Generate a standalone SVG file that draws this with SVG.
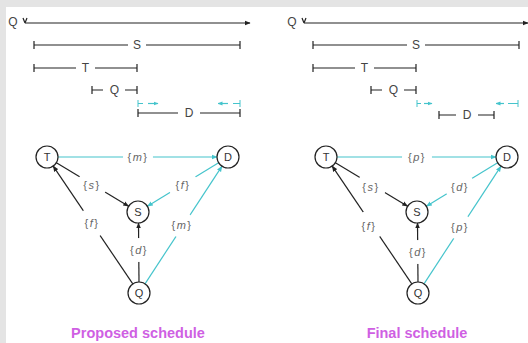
<svg xmlns="http://www.w3.org/2000/svg" width="528" height="343" viewBox="0 0 528 343">
<defs>
<marker id="ab" viewBox="0 0 10 10" refX="9" refY="5" markerWidth="6" markerHeight="6" orient="auto" markerUnits="userSpaceOnUse"><path d="M0,1 L10,5 L0,9 z" fill="#222"/></marker>
<marker id="ac" viewBox="0 0 10 10" refX="9" refY="5" markerWidth="6" markerHeight="6" orient="auto" markerUnits="userSpaceOnUse"><path d="M0,1 L10,5 L0,9 z" fill="#45c4cc"/></marker>
<marker id="acs" viewBox="0 0 10 10" refX="9" refY="5" markerWidth="5" markerHeight="5" orient="auto" markerUnits="userSpaceOnUse"><path d="M0,1 L10,5 L0,9 z" fill="#45c4cc"/></marker>
</defs>
<style>
.bl{stroke:#222;stroke-width:1.2;fill:none}
.cy{stroke:#45c4cc;stroke-width:1.2;fill:none}
.tk{stroke:#222;stroke-width:1.2}
.tkc{stroke:#45c4cc;stroke-width:1}
.tl{font-family:"Liberation Sans",Arial,sans-serif;font-size:12px;fill:#444;text-anchor:middle;dominant-baseline:central}
.nd circle{fill:#fff;stroke:#222;stroke-width:1.2}
.nd text{font-family:"Liberation Sans",Arial,sans-serif;font-size:11px;fill:#333;text-anchor:middle;dominant-baseline:central}
.lb{font-family:"Liberation Sans",Arial,sans-serif;font-size:11px;fill:#666;text-anchor:middle;dominant-baseline:central;letter-spacing:1.5px}
.lb tspan{font-style:italic}
.lbg{fill:#fff}
.title{font-family:"Liberation Sans",Arial,sans-serif;font-size:14.5px;font-weight:bold;fill:#cf5fe3;text-anchor:middle}
</style>
<rect width="528" height="343" fill="#fff"/>
<rect x="0" y="0" width="528" height="7" fill="#e4e4e4"/>
<rect x="0" y="0" width="6" height="343" fill="#e4e4e4"/>

<!-- Left timeline -->
<g id="timeline-left">
<text class="tl" x="13" y="22">Q</text>
<path class="bl" d="M23,18 L25,23 M27,18 L25,23" stroke-width="1"/>
<line class="bl" x1="25" y1="23" x2="250" y2="23" marker-end="url(#ab)"/>
<line class="bl" x1="34" y1="45" x2="240" y2="45"/>
<line class="tk" x1="34" y1="41" x2="34" y2="49"/><line class="tk" x1="240" y1="41" x2="240" y2="49"/>
<rect class="lbg" x="128" y="38" width="18" height="14"/><text class="tl" x="137" y="45">S</text>
<line class="bl" x1="34" y1="68" x2="137" y2="68"/>
<line class="tk" x1="34" y1="64" x2="34" y2="72"/><line class="tk" x1="137" y1="64" x2="137" y2="72"/>
<rect class="lbg" x="76" y="61" width="19" height="14"/><text class="tl" x="85.5" y="68">T</text>
<line class="bl" x1="92" y1="90" x2="137" y2="90"/>
<line class="tk" x1="92" y1="86" x2="92" y2="94"/><line class="tk" x1="137" y1="86" x2="137" y2="94"/>
<rect class="lbg" x="103" y="83" width="22" height="14"/><text class="tl" x="114.5" y="90">Q</text>
<line class="tkc" x1="138" y1="100" x2="138" y2="107"/><line class="tkc" x1="138" y1="103.5" x2="143" y2="103.5"/>
<line class="cy" x1="148" y1="103.5" x2="158" y2="103.5" stroke-width="1" marker-end="url(#acs)"/>
<line class="tkc" x1="240" y1="100" x2="240" y2="107"/><line class="tkc" x1="240" y1="103.5" x2="233" y2="103.5"/>
<line class="cy" x1="228" y1="103.5" x2="218" y2="103.5" stroke-width="1" marker-end="url(#acs)"/>
<line class="bl" x1="138" y1="113" x2="240" y2="113"/>
<line class="tk" x1="138" y1="109" x2="138" y2="117"/><line class="tk" x1="240" y1="109" x2="240" y2="117"/>
<rect class="lbg" x="178" y="106" width="22" height="14"/><text class="tl" x="189" y="113">D</text>
</g>

<!-- Right timeline -->
<g id="timeline-right">
<text class="tl" x="292" y="22">Q</text>
<path class="bl" d="M302,18 L304,23 M306,18 L304,23" stroke-width="1"/>
<line class="bl" x1="304" y1="23" x2="528" y2="23" marker-end="url(#ab)"/>
<line class="bl" x1="313" y1="45" x2="519" y2="45"/>
<line class="tk" x1="313" y1="41" x2="313" y2="49"/><line class="tk" x1="519" y1="41" x2="519" y2="49"/>
<rect class="lbg" x="407" y="38" width="18" height="14"/><text class="tl" x="416" y="45">S</text>
<line class="bl" x1="313" y1="68" x2="416" y2="68"/>
<line class="tk" x1="313" y1="64" x2="313" y2="72"/><line class="tk" x1="416" y1="64" x2="416" y2="72"/>
<rect class="lbg" x="355" y="61" width="19" height="14"/><text class="tl" x="364.5" y="68">T</text>
<line class="bl" x1="371" y1="90" x2="416" y2="90"/>
<line class="tk" x1="371" y1="86" x2="371" y2="94"/><line class="tk" x1="416" y1="86" x2="416" y2="94"/>
<rect class="lbg" x="382" y="83" width="22" height="14"/><text class="tl" x="393.5" y="90">Q</text>
<line class="tkc" x1="417" y1="100" x2="417" y2="107"/><line class="tkc" x1="417" y1="103.5" x2="421" y2="103.5"/>
<line class="cy" x1="424" y1="103.5" x2="432" y2="103.5" stroke-width="1" marker-end="url(#acs)"/>
<line class="tkc" x1="518" y1="100" x2="518" y2="107"/><line class="tkc" x1="518" y1="103.5" x2="508" y2="103.5"/>
<line class="cy" x1="504" y1="103.5" x2="496" y2="103.5" stroke-width="1" marker-end="url(#acs)"/>
<line class="bl" x1="439" y1="115" x2="494" y2="115"/>
<line class="tk" x1="439" y1="111" x2="439" y2="119"/><line class="tk" x1="494" y1="111" x2="494" y2="119"/>
<rect class="lbg" x="456" y="108" width="22" height="14"/><text class="tl" x="467" y="115">D</text>
</g>

<!-- Connectors -->
<g id="connectors">
<line class="cy" x1="58" y1="157" x2="217" y2="157" marker-end="url(#ac)"/>
<line class="bl" x1="56.4" y1="162.7" x2="128.6" y2="206.3" marker-end="url(#ab)"/>
<line class="cy" x1="218.6" y1="162.7" x2="147.4" y2="206.3" marker-end="url(#ac)"/>
<line class="bl" x1="132.8" y1="283.9" x2="53.2" y2="166.1" marker-end="url(#ab)"/>
<line class="bl" x1="139" y1="282" x2="138.5" y2="223" marker-end="url(#ab)"/>
<line class="cy" x1="145" y1="283.8" x2="222" y2="166.2" marker-end="url(#ac)"/>
<line class="cy" x1="337" y1="157" x2="496" y2="157" marker-end="url(#ac)"/>
<line class="bl" x1="335.4" y1="162.7" x2="407.6" y2="206.3" marker-end="url(#ab)"/>
<line class="cy" x1="497.6" y1="162.7" x2="426.4" y2="206.3" marker-end="url(#ac)"/>
<line class="bl" x1="411.8" y1="283.9" x2="332.2" y2="166.1" marker-end="url(#ab)"/>
<line class="bl" x1="418" y1="282" x2="417.5" y2="223" marker-end="url(#ab)"/>
<line class="cy" x1="424" y1="283.8" x2="501" y2="166.2" marker-end="url(#ac)"/>
</g>

<!-- Edge labels -->
<g id="edge-labels">
<circle class="lbg" cx="138" cy="157" r="15"/><text class="lb" x="138" y="157">{<tspan>m</tspan>}</text>
<circle class="lbg" cx="92" cy="185" r="15"/><text class="lb" x="92" y="185">{<tspan>s</tspan>}</text>
<circle class="lbg" cx="183" cy="185" r="15"/><text class="lb" x="183" y="185">{<tspan>f</tspan>}</text>
<circle class="lbg" cx="92" cy="223" r="15"/><text class="lb" x="92" y="223">{<tspan>f</tspan>}</text>
<circle class="lbg" cx="139" cy="250" r="12"/><text class="lb" x="139" y="250">{<tspan>d</tspan>}</text>
<circle class="lbg" cx="182" cy="225" r="13"/><text class="lb" x="182" y="225">{<tspan>m</tspan>}</text>

<circle class="lbg" cx="417" cy="157" r="15"/><text class="lb" x="417" y="157">{<tspan>p</tspan>}</text>
<circle class="lbg" cx="371" cy="187" r="15"/><text class="lb" x="371" y="187">{<tspan>s</tspan>}</text>
<circle class="lbg" cx="460" cy="187" r="15"/><text class="lb" x="460" y="187">{<tspan>d</tspan>}</text>
<circle class="lbg" cx="369" cy="226" r="15"/><text class="lb" x="369" y="226">{<tspan>f</tspan>}</text>
<circle class="lbg" cx="418" cy="252" r="12"/><text class="lb" x="418" y="252">{<tspan>d</tspan>}</text>
<circle class="lbg" cx="460" cy="227" r="13"/><text class="lb" x="460" y="227">{<tspan>p</tspan>}</text>
</g>

<g id="node-T-left" class="nd"><circle cx="47" cy="157" r="11"/><text x="47" y="157">T</text></g>
<g id="node-D-left" class="nd"><circle cx="228" cy="157" r="11"/><text x="228" y="157">D</text></g>
<g id="node-S-left" class="nd"><circle cx="138" cy="212" r="11"/><text x="138" y="212">S</text></g>
<g id="node-Q-left" class="nd"><circle cx="139" cy="293" r="11"/><text x="139" y="293">Q</text></g>
<g id="node-T-right" class="nd"><circle cx="326" cy="157" r="11"/><text x="326" y="157">T</text></g>
<g id="node-D-right" class="nd"><circle cx="507" cy="157" r="11"/><text x="507" y="157">D</text></g>
<g id="node-S-right" class="nd"><circle cx="417" cy="212" r="11"/><text x="417" y="212">S</text></g>
<g id="node-Q-right" class="nd"><circle cx="418" cy="293" r="11"/><text x="418" y="293">Q</text></g>

<text class="title" x="138" y="338">Proposed schedule</text>
<text class="title" x="417" y="338">Final schedule</text>
</svg>
